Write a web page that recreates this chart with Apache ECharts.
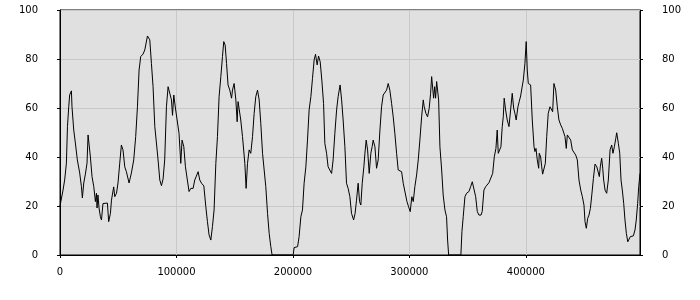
<!DOCTYPE html>
<html>
<head>
<meta charset="utf-8">
<script src="https://cdn.jsdelivr.net/npm/echarts@6/dist/echarts.min.js"></script>
<style>html,body{margin:0;padding:0;background:#fff}#c{width:700px;height:300px}</style>
</head>
<body>
<div id="c"></div>
<script>
var xValues = [0,2600,4000,5500,6400,7500,8300,9800,10300,11800,13200,14900,16900,18400,19200,20400,21800,23200,24100,24900,26100,27500,29000,30400,31300,31800,32600,33500,34700,35600,36900,38400,40700,41800,43300,44200,46100,47000,48500,49800,51300,52700,54100,55600,57000,59300,61300,63300,65000,66500,67900,69300,71300,72800,73600,75100,77100,78500,79900,81400,82800,84200,85700,87100,88500,89900,91400,92800,94200,95700,96600,97700,99100,100500,102200,103700,104800,106300,107700,109100,110800,112300,114300,115700,117200,118600,120000,121500,123500,125200,126600,128000,129500,130900,132300,133800,135200,136600,138100,139500,140600,141800,143000,144300,145800,147300,148100,149500,151000,152100,152900,154400,155200,156700,158700,159800,161000,162400,163800,165300,166700,168100,169600,171000,172400,173900,175300,176700,178200,179600,181000,182100,200200,201000,204000,205300,206800,208200,209600,211100,212500,213900,215400,216800,218200,219400,220800,222000,223400,224800,226300,227400,228900,230200,231700,233200,234500,236000,237500,238800,240500,241800,243100,244600,246000,247400,248900,250300,252100,253400,254600,256000,257200,258300,259500,260900,261800,262900,264100,265500,266900,268000,268900,270400,271800,273200,274700,276100,277500,279000,280400,281800,283200,284700,286100,287500,289000,290400,291800,293300,294700,297900,299300,300700,302100,303300,304700,306200,307600,309000,310500,311900,312700,314200,315600,317000,318200,319100,320000,320800,321700,322500,323400,324200,325100,326200,327700,329000,330500,331900,332800,333700,344200,345100,346200,347700,349100,351100,352600,354000,355400,356900,358300,359700,361500,362500,364000,365500,366800,368300,370000,371500,372900,374300,375400,376300,377700,378600,379700,380600,381400,382600,384000,385500,386900,388300,389500,390600,391700,393200,394300,395500,396600,397800,399200,400300,401200,402100,404100,405500,407000,407800,408700,409800,411000,411500,412700,413600,414400,415800,416700,417900,419200,420700,422200,423000,424100,425600,427000,428400,429900,431300,432500,433600,434700,435600,437000,438500,439900,441300,442800,444200,445600,447100,448500,449900,450800,451900,453100,454200,455400,456600,458000,459400,460900,462200,463100,463900,465100,466000,466800,468000,469400,470800,472300,473700,474800,476000,477200,478000,479400,480600,481700,482800,484000,485100,486300,487500,488600,489700,490900,492300,493700,494800,496000,496900,498000];
var yValues = [20,26.5,30.6,37.5,52.4,60.5,65.3,67,60.5,51,45.7,38.8,33.5,27.9,23.3,29.4,33,37.5,49,49,40,32,27.9,21.8,25.2,19.2,24.5,19.2,15.6,14.3,21,21.8,21.2,13.6,17,22.4,27.8,23.8,25.2,29.4,37.5,44.9,42.9,36,34,29.4,33.5,38.8,48.3,60.5,75.5,81,82,83.7,85.7,89.4,87.8,78.2,68.7,52.4,45.7,38.8,30.6,28.3,31,38.8,60.5,68.7,68,63.3,57,65.3,60,59.2,49.7,37.4,46.9,44.2,36,35.4,25.9,27.2,27.2,30.6,29.9,34,30.6,29.3,28.2,19.7,13.6,8.2,6.1,11.6,18.4,37.4,48.3,64.6,72.8,81,87.1,85.7,78.2,69.4,67.3,64,67.3,70,63.3,54.4,62.6,63.3,55.1,48.3,37.4,27.2,37.4,42.9,41.5,48.3,57.8,64.6,67.3,63.3,53.7,41.5,34.7,27.9,17,8.8,3.4,0,0,3,3.4,7.5,15.6,18.4,29.3,36,46.9,59.2,64.6,72.1,79.6,81.9,77.6,81.2,78.9,71.4,61.9,45.6,41.5,36,36,33.3,38.8,49.7,59.2,64.6,69.4,63.3,55.1,44.2,29.3,27.2,23.8,17,14.3,17,22.4,29.3,21.8,20.4,29.3,36,41.5,46.9,42.9,33.3,41.5,44.2,46.9,44.2,35.4,38.8,51,60.5,65.3,66,67.3,70,67.3,61.9,56.4,49.7,41.5,34.7,34.7,34,29.3,21.8,19.7,17.7,23.8,21.8,27.9,32.7,38.8,46.9,56.4,63.3,60.5,57.8,56.4,59.9,66,72.8,72.5,64,68.7,64,70.8,70.8,63.3,44.2,34.7,24.5,18.4,15.6,6.1,0,0,9.5,15.6,23.8,25.2,25.9,27.9,29.9,29.8,23.8,17.7,16.3,16.3,17.7,26.5,27.9,28.6,29.5,29.9,33.3,40.1,43.5,51,41.5,41.5,44.2,52.4,56.4,64,59.2,55.1,52.4,59.2,66,60,57.8,55.1,60.5,62.6,64.9,64.5,71.4,78.2,87.1,75.5,70,69.4,55.1,44.2,42.2,43.5,38.8,35.4,41.5,40,36,33,33,37.4,48.3,57.8,60.5,61.2,58.5,70,67.3,60.5,55.1,53.1,51.7,51.7,48.3,43.5,49,48.3,46.9,42.9,42.2,40.8,38.8,30.6,26.5,23.8,20.4,13.6,10.9,15,16.3,19,24.5,31.3,37.1,36,35.4,32,36,39.5,35.4,30.6,26.5,25.2,30.6,42.9,44.9,41.5,44.2,47.6,49.9,45.6,41.5,30.6,26.5,21.1,14.3,8.8,5.4,6,7.5,7.5,7.8,10.2,14.3,21.1,27.9,33.3];
var xTicks = [0,100000,200000,300000,400000];
var yTicks = [0,20,40,60,80,100];

var data = xValues.map(function(x,i){return [x,yValues[i]];});
var font = 'DejaVu Sans';
var chart = echarts.init(document.getElementById('c'), null, {renderer:'canvas'});
chart.setOption({
  animation:false,
  grid:{left:60,right:60,top:10,bottom:45,show:true,backgroundColor:'#e0e0e0',borderColor:'#000',borderWidth:1},
  xAxis:{type:'value',min:0,max:xValues[xValues.length-1],interval:100000,
    axisLine:{show:true,onZero:false,lineStyle:{color:'#000',width:1}},
    axisTick:{show:true,length:3,inside:false,lineStyle:{color:'#000'}},
    axisLabel:{showMaxLabel:false,margin:12,color:'#000',fontFamily:font,fontSize:10,formatter:function(v){return xTicks.indexOf(v)>=0?String(v):'';}},
    splitLine:{show:true,lineStyle:{color:'#c8c8c8',width:1}}},
  yAxis:[
    {type:'value',min:yTicks[0],max:yTicks[yTicks.length-1],interval:20,position:'left',
     axisLine:{show:true,lineStyle:{color:'#000'}},
     axisTick:{show:true,length:3,lineStyle:{color:'#000'}},
     axisLabel:{margin:22,color:'#000',fontFamily:font,fontSize:10},
     splitLine:{show:true,lineStyle:{color:'#c8c8c8',width:1}}},
    {type:'value',min:yTicks[0],max:yTicks[yTicks.length-1],interval:20,position:'right',
     axisLine:{show:true,lineStyle:{color:'#000'}},
     axisTick:{show:true,length:3,lineStyle:{color:'#000'}},
     axisLabel:{margin:22,color:'#000',fontFamily:font,fontSize:10},
     splitLine:{show:false}}
  ],
  series:[{type:'line',data:data,showSymbol:false,symbol:'none',lineStyle:{color:'#000',width:1},silent:true}]
});
</script>
</body>
</html>
